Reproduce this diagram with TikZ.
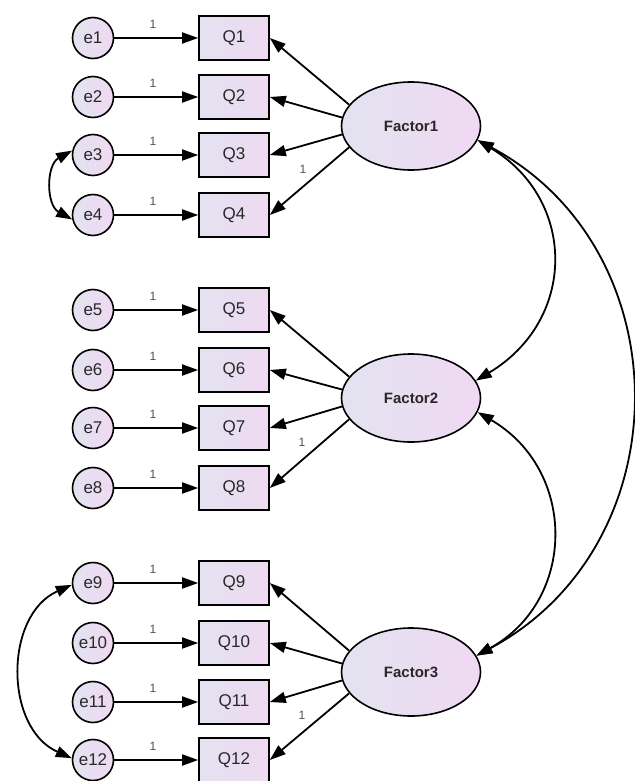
\documentclass[tikz,border=0pt]{standalone}
\usepackage{fontspec}
\setmainfont{Liberation Sans}
\usetikzlibrary{arrows.meta,shapes.geometric}
\definecolor{shadeL}{RGB}{226,227,240}
\definecolor{shadeR}{RGB}{240,217,242}
\definecolor{txt}{RGB}{40,40,40}
\definecolor{onec}{RGB}{80,80,80}
\tikzset{
  errnode/.style={circle, draw, line width=1.6pt, minimum size=41pt, inner sep=0pt,
    left color=shadeL, right color=shadeR, text=txt, font=\fontsize{17}{17}\selectfont},
  obsnode/.style={rectangle, draw, line width=1.6pt, minimum width=70pt, minimum height=44pt,
    inner sep=0pt, left color=shadeL, right color=shadeR, text=txt, font=\fontsize{17}{17}\selectfont},
  latnode/.style={ellipse, draw, line width=1.6pt, minimum width=139pt, minimum height=88pt,
    inner sep=0pt, left color=shadeL, right color=shadeR, text=txt, font=\bfseries\fontsize{15}{15}\selectfont},
  arr/.style={line width=1.8pt, -{Triangle[length=16pt,width=11pt]}},
  cov/.style={line width=1.8pt, {Triangle[length=16pt,width=11pt]}-{Triangle[length=16pt,width=11pt]}},
  onelab/.style={font=\fontsize{12}{12}\selectfont, text=onec, inner sep=0pt}
}
\begin{document}
\begin{tikzpicture}[x=1pt,y=-1pt]
\useasboundingbox (0,0) rectangle (634,781);
% latent factors
\node[latnode] (F1) at (411,126) {Factor1};
\node[latnode] (F2) at (411,398) {Factor2};
\node[latnode] (F3) at (411,672) {Factor3};
% indicators and errors
\foreach \i/\y in {1/38,2/97,3/155,4/215,5/310,6/370,7/428,8/488,9/583,10/643,11/702,12/760}{
  \node[errnode] (e\i) at (93,\y) {e\i};
  \node[obsnode] (Q\i) at (234,\y) {Q\i};
  \draw[arr] (e\i.east) -- (Q\i.west);
  \node[onelab] at (153,\y-14) {1};
}
% loadings
\foreach \f/\a/\b/\c/\d in {F1/1/2/3/4, F2/5/6/7/8, F3/9/10/11/12}{
  \draw[arr] (\f.161) -- (Q\a.east);
  \draw[arr] (\f.173) -- (Q\b.east);
  \draw[arr] (\f.187) -- (Q\c.east);
  \draw[arr] (\f.199) -- (Q\d.east);
}
\node[onelab] at (303,169) {1};
\node[onelab] at (302,442) {1};
\node[onelab] at (302,715) {1};
% error covariances
\draw[cov] (e3.168) .. controls (46,165) and (46,205) .. (e4.192);
\draw[cov] (e9.185) .. controls (4,615) and (4,728) .. (e12.175);
% factor covariances
\draw[cov] (F1.-12) .. controls (577,200) and (577,320) .. (F2.15);
\draw[cov] (F2.-12) .. controls (577,470) and (577,600) .. (F3.14);
\draw[cov] (F1.-12) .. controls (683,250) and (683,545) .. (F3.14);
\end{tikzpicture}
\end{document}
